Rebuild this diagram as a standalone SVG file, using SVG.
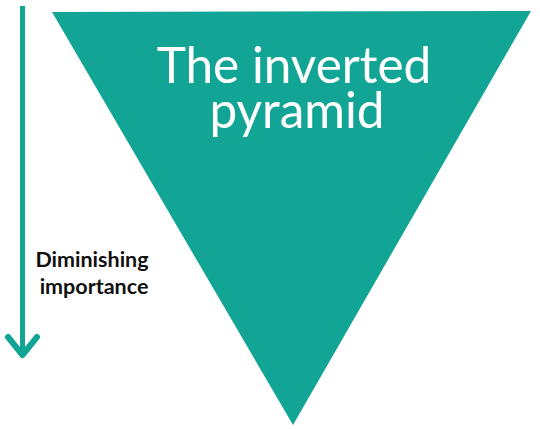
<svg xmlns="http://www.w3.org/2000/svg" width="540" height="429" viewBox="0 0 540 429">
<style>
.teal{fill:#12a595}
.title{font-family:Lato,"Open Sans",sans-serif;font-size:49.5px;fill:#ffffff;text-anchor:middle}
.lbl{font-family:Lato,"Open Sans",sans-serif;font-weight:bold;font-size:21.5px;fill:#111111;text-anchor:middle}
</style>
<rect width="540" height="429" fill="#ffffff"/>
<g id="pyramid">
<polygon class="teal" points="52,12 531,11 293,425"/>
<text class="title" x="294" y="83">The inverted</text>
<text class="title" x="297" y="128">pyramid</text>
</g>
<g id="connectors">
<line x1="22.5" y1="6" x2="22.5" y2="355" stroke="#12a595" stroke-width="5"/>
<polyline points="8,337 22.5,355 37,337" fill="none" stroke="#12a595" stroke-width="6" stroke-linecap="round" stroke-linejoin="round"/>
</g>
<g id="label">
<text class="lbl" x="92" y="267">Diminishing</text>
<text class="lbl" x="94" y="294">importance</text>
</g>
</svg>
